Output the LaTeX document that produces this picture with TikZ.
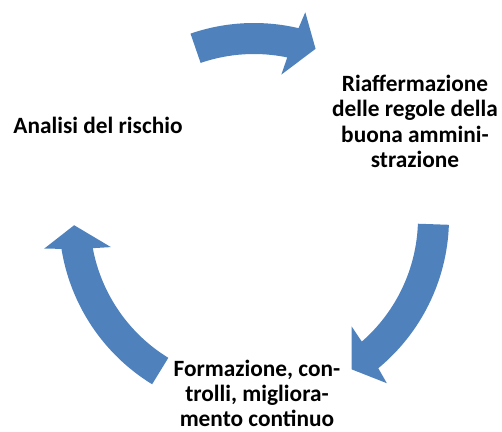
\documentclass[tikz,border=0pt]{standalone}
\usepackage{fontspec}
\setmainfont{Carlito}
\definecolor{cycleblue}{RGB}{79,129,189}
% #1 = angle of the tail, #2 = angle of the tip (clockwise)
\newcommand{\cyclearrow}[2]{%
\fill[cycleblue](#1:195)arc[start angle=#1,end angle={#2+6.8},radius=195]
 --({#2+6}:212)--(#2:180)--({#2+9.2}:146)--({#2+8.3}:164)
 arc[start angle={#2+8.3},end angle=#1,radius=164]--cycle;}

\begin{document}
\begin{tikzpicture}[x=0.75pt,y=0.75pt,
  cycletext/.style={font=\fontsize{17.5}{19}\selectfont\bfseries,align=center,inner sep=0pt}]
\useasboundingbox (-254,-213) rectangle (248,218);
\cyclearrow{109}{70}
\cyclearrow{-2}{-57.2}
\cyclearrow{238.5}{182.3}
\node[cycletext] (analisi) at (-156,93) {Analisi del rischio};
\node[cycletext] (riaff) at (161,96.5) {Riaffermazione\\delle regole della\\buona ammini-\\strazione};
\node[cycletext] (formaz) at (3,-175.5) {Formazione, con-\\trolli, migliora-\\mento continuo};
\end{tikzpicture}
\end{document}
